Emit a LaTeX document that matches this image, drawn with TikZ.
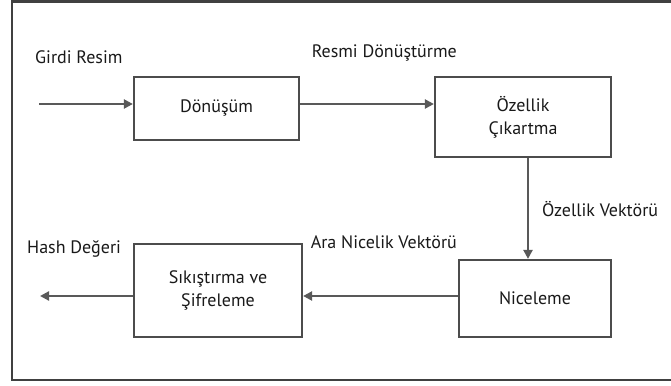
\documentclass[tikz,border=0pt]{standalone}
\usepackage{fontspec}
\setmainfont{PT Sans}
\usetikzlibrary{arrows.meta}
\begin{document}
\begin{tikzpicture}[x=1pt,y=-1pt,
  block/.style={draw=black!70,line width=2.2pt,minimum width=#1,align=center,
    font=\fontsize{18}{22}\selectfont,inner sep=0pt,text=black!90},
  flow/.style={draw=black!65,line width=2.2pt,-{Triangle[length=9pt,width=9pt]}},
  lbl/.style={font=\fontsize{18}{22}\selectfont,inner sep=0pt,text=black!90}]
\useasboundingbox (0,0) rectangle (671,385);
% open frame (right side runs past the edge)
\draw[black!75,line width=2.5pt] (672,1.5) -- (12,1.5) -- (12,380) -- (672,380);
% blocks
\node[block=165pt,minimum height=63pt] (don) at (216.5,108.5) {Dönüşüm};
\node[block=176pt,minimum height=80pt] (oz) at (523,117) {Özellik\\[1pt]Çıkartma};
\node[block=152pt,minimum height=77pt] (nic) at (535,298.5) {Niceleme};
\node[block=168pt,minimum height=93pt] (sik) at (218,290.5) {Sıkıştırma ve\\[1pt]Şifreleme};
% connectors
\coordinate (in) at (39,104);
\coordinate (out) at (40,296);
\draw[flow] (in) -- (don.west |- in);
\draw[flow] (don.east |- in) -- (oz.west |- in);
\draw[flow] (oz.south -| 528,0) -- (nic.north -| 528,0);
\draw[flow] (nic.west |- out) -- (sik.east |- out);
\draw[flow] (sik.west |- out) -- (out);
% labels
\node[lbl,anchor=west] (l1) at (35,57) {Girdi Resim};
\node[lbl,anchor=east] (l2) at (457,53) {Resmi Dönüştürme};
\node[lbl,anchor=west] (l3) at (542,209) {Özellik Vektörü};
\node[lbl,anchor=east] (l4) at (457,242) {Ara Nicelik Vektörü};
\node[lbl,anchor=west] (l5) at (27,249) {Hash Değeri};
\end{tikzpicture}
\end{document}
